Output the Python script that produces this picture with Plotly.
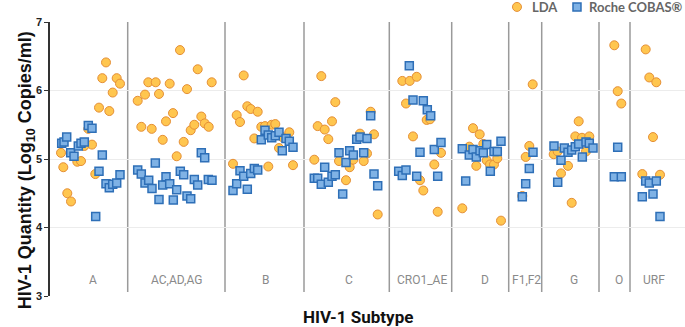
import plotly.graph_objects as go

# ---- data ----
subtypes = ["A", "AC,AD,AG", "B", "C", "CRO1_AE", "D", "F1,F2", "G", "O", "URF"]
# group separators and label centres on the sample-position axis (0..635)
boundaries = [77.7, 175, 254, 339.3, 401.7, 458.7, 491.7, 549, 580]
label_pos = [43.3, 126.7, 215, 299.3, 371.7, 434.7, 476, 524.3, 569, 604]

lda_x = [11, 13.3, 17.3, 21, 27.3, 31, 34.3, 38.3, 42, 45.3, 49, 52.3, 56, 59.3, 62.7, 66.7, 70,
         87.7, 95, 98.3, 105.7, 109, 119.7, 130, 137, 147.7, 161.7, 91.3, 101.7, 116, 123, 112.7, 126.7, 133.7, 140.7, 144.3, 151.3, 154.7, 158.7,
         183, 193.7, 186.7, 190, 197.3, 200.7, 207.7, 211.3, 215, 221.7, 225.3, 204.3, 218.3, 232.3, 239.3, 229, 243,
         264.3, 271.3, 267.7, 274.7, 278.3, 282, 285.3, 289, 296, 299.7, 303.3, 310, 317, 313.7, 320.7, 324, 327.7,
         352.3, 359.7, 366.7, 356, 376.7, 380, 363, 391, 384.3, 370, 373.3, 387.7,
         412.3, 423, 429.7, 419.3, 433.3, 426.3, 436.7, 440, 444, 447.3, 451,
         482.7, 479.3, 475.7, 472.3,
         528.7, 525.3, 532, 539.3, 503.7, 507.7, 518, 511, 521.7, 536,
         564.3, 567.7, 571.3,
         595.7, 599.3, 606.3, 603, 592.3, 610]
lda_y = [5.09, 4.88, 4.50, 4.38, 4.96, 4.97, 5.19, 5.44, 5.21, 4.78, 5.75, 6.18, 6.41, 5.70, 5.97, 6.18, 6.10,
         5.85, 5.94, 6.12, 6.12, 5.95, 6.10, 6.59, 6.02, 6.31, 6.12, 5.47, 5.44, 5.55, 5.67, 5.28, 5.04, 5.25, 5.42, 5.50, 5.62, 5.52, 5.47,
         4.93, 6.22, 5.64, 5.54, 5.77, 5.73, 5.69, 5.47, 5.48, 5.50, 5.51, 5.30, 4.89, 5.32, 5.39, 5.16, 4.91,
         4.99, 6.21, 5.48, 5.43, 5.29, 5.55, 5.83, 4.97, 4.69, 4.88, 4.99, 5.37, 5.08, 4.97, 5.69, 5.36, 4.19,
         6.14, 6.14, 6.20, 5.81, 5.57, 5.58, 5.33, 5.09, 4.92, 4.69, 4.54, 4.23,
         4.28, 5.45, 5.36, 5.18, 5.22, 4.90, 4.98, 4.92, 4.92, 5.01, 4.10,
         6.09, 5.19, 5.03, 4.46,
         5.55, 5.33, 5.31, 5.33, 5.07, 5.11, 4.90, 4.79, 4.36, 5.11,
         6.66, 5.99, 5.81,
         6.60, 6.19, 6.12, 5.32, 4.78, 4.77]

roche_x = [11.7, 14, 16.7, 20.7, 24, 28.3, 31, 34.3, 38.3, 42, 45.7, 52.3, 49, 56, 59.3, 62.7, 66.7, 70,
           87.7, 91.3, 95, 98.7, 102, 105.3, 109, 112.7, 116, 119.7, 123.3, 126.7, 130.3, 133.7, 137, 140.7, 144.3, 147.7, 151.3, 154.7, 158.3, 162,
           183, 186.7, 190, 193.7, 197.3, 200.7, 204.3, 207.7, 211.3, 215, 218.3, 221.7, 225.3, 229, 232.3, 236, 239.3, 243,
           264.3, 267.7, 271.3, 274.7, 278.3, 282, 285.3, 289, 292.7, 296, 299.7, 303.3, 306.7, 310, 313.7, 317, 320.7, 324, 327.7,
           359.3, 363, 373.3, 377.3, 380.7, 348.7, 352.3, 356, 366.7, 370, 384.3, 387.7, 391,
           412.3, 415.7, 419.3, 423, 426.3, 430, 433.3, 436.7, 440.3, 444, 447.3, 451,
           483, 479.3, 475.7, 472.3,
           504, 507.7, 511, 514.3, 518, 521.7, 525.3, 528.7, 532.3, 536, 539.3, 543,
           567.7, 564.3, 571.3,
           595.7, 599.3, 606.3, 592.3, 603, 610]
roche_y = [5.23, 5.25, 5.32, 5.09, 5.04, 5.19, 5.23, 5.25, 5.49, 5.45, 4.16, 5.06, 4.82, 4.64, 4.58, 4.63, 4.65, 4.77,
           4.84, 4.78, 4.65, 4.69, 4.57, 4.94, 4.41, 4.62, 4.74, 4.64, 4.40, 4.55, 4.82, 4.77, 4.46, 4.42, 4.70, 4.62, 5.09, 5.02, 4.70, 4.69,
           4.54, 4.64, 4.83, 4.75, 4.56, 4.79, 4.86, 4.84, 5.28, 5.42, 5.35, 5.31, 5.34, 5.39, 5.12, 5.30, 5.26, 5.17,
           4.72, 4.72, 4.63, 4.88, 4.66, 4.75, 4.77, 5.09, 4.49, 4.95, 5.12, 5.06, 5.29, 5.32, 5.09, 5.30, 5.63, 4.78, 4.61,
           6.36, 5.86, 5.85, 5.72, 5.63, 4.82, 4.76, 4.84, 4.75, 5.10, 5.14, 4.75, 5.24,
           5.15, 4.68, 5.06, 5.14, 5.03, 5.12, 5.09, 5.21, 4.82, 5.11, 5.11, 5.26,
           5.10, 4.86, 4.64, 4.45,
           5.19, 4.66, 4.98, 5.16, 5.10, 5.13, 5.18, 5.22, 5.03, 5.25, 5.23, 5.16,
           5.17, 4.74, 4.74,
           4.68, 4.65, 4.68, 4.45, 4.49, 4.16]

y_ticks = [3, 4, 5, 6, 7]
series_names = ["LDA", "Roche COBAS®"]

# ---- styles ----
LDA_FILL, LDA_LINE = "#FFC64F", "#E58F36"
ROCHE_FILL, ROCHE_LINE = "#7FB2E5", "#2E6FB7"

fig = go.Figure()
fig.add_trace(go.Scatter(
    x=lda_x, y=lda_y, mode="markers", name=series_names[0],
    marker=dict(symbol="circle", size=9, color=LDA_FILL, line=dict(color=LDA_LINE, width=1))))
fig.add_trace(go.Scatter(
    x=roche_x, y=roche_y, mode="markers", name=series_names[1],
    marker=dict(symbol="square", size=8, color=ROCHE_FILL, line=dict(color=ROCHE_LINE, width=1.5))))

for b in boundaries:
    fig.add_shape(type="line", xref="x", yref="y", x0=b, x1=b, y0=3.06, y1=7,
                  line=dict(color="#9a9a9a", width=1.5), layer="below")

for name, pos in zip(subtypes, label_pos):
    fig.add_annotation(x=pos, y=3.24, xref="x", yref="y", text=name, showarrow=False,
                       font=dict(family="Roboto", size=12, color="#8a8a8a"))

# compact legend (keys + labels) at top right
legend_y = 1.055
fig.add_shape(type="circle", xref="paper", yref="paper", xsizemode="pixel", ysizemode="pixel",
              xanchor=0.7354, yanchor=legend_y, x0=-4.5, x1=4.5, y0=-4.5, y1=4.5,
              fillcolor=LDA_FILL, line=dict(color=LDA_LINE, width=1))
fig.add_annotation(x=0.7559, y=legend_y, xref="paper", yref="paper", xanchor="left", yanchor="middle",
                   text=f"<b>{series_names[0]}</b>", showarrow=False,
                   font=dict(family="Lato", size=13, color="#666"))
fig.add_shape(type="rect", xref="paper", yref="paper", xsizemode="pixel", ysizemode="pixel",
              xanchor=0.8299, yanchor=legend_y, x0=-4, x1=4, y0=-4, y1=4,
              fillcolor=ROCHE_FILL, line=dict(color=ROCHE_LINE, width=1.5))
fig.add_annotation(x=0.8457, y=legend_y, xref="paper", yref="paper", xanchor="left", yanchor="middle",
                   text=f"<b>{series_names[1]}</b>", showarrow=False,
                   font=dict(family="Lato", size=13, color="#666"))

fig.add_annotation(x=308, xref="x", y=-0.075, yref="paper", yanchor="middle",
                   text="<b>HIV-1 Subtype</b>", showarrow=False,
                   font=dict(family="Roboto", size=17, color="#111"))
fig.add_annotation(x=-0.057, xref="paper", y=0.46, yref="paper", textangle=-90,
                   text="<b>HIV-1 Quantity (Log<sub>10</sub> Copies/ml)</b>", showarrow=False,
                   font=dict(family="Liberation Sans", size=18, color="#111"))

fig.update_layout(
    width=685, height=327,
    margin=dict(l=50, r=0, t=22, b=31, autoexpand=False),
    paper_bgcolor="white", plot_bgcolor="white",
    showlegend=False,
    xaxis=dict(range=[0, 635], showgrid=False, zeroline=False, showticklabels=False,
               showline=False, ticks=""),
    yaxis=dict(range=[3, 7], tickvals=y_ticks, ticktext=[f"<b>{t}</b>" for t in y_ticks],
               showgrid=True, gridcolor="#ececec", zeroline=False,
               showline=True, linecolor="#333", linewidth=1.5,
               ticks="outside", ticklen=4, tickcolor="#333",
               tickfont=dict(family="Liberation Sans", size=11, color="#222")),
)

fig.write_html("out.html", config={"displayModeBar": False},
               post_script="document.body.style.margin='0';")
